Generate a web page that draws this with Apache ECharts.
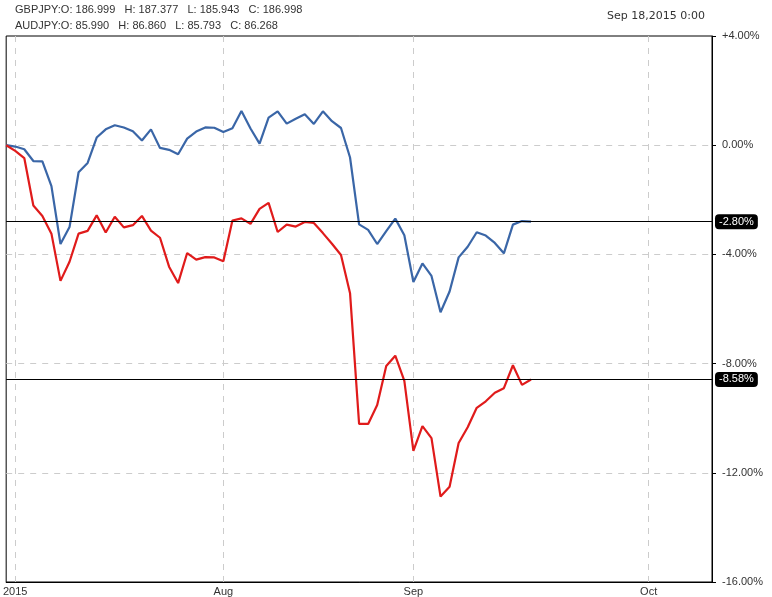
<!DOCTYPE html>
<html>
<head>
<meta charset="utf-8">
<style>
  html, body { margin: 0; padding: 0; background: #fff; }
  #chart { width: 772px; height: 597px; }
</style>
<script src="https://cdn.jsdelivr.net/npm/echarts@6/dist/echarts.min.js"></script>
</head>
<body>
<div id="chart"></div>
<script>
// 交易日（Jun 30 ~ Sep 18）+ 右侧空白日历日（Sep 19 ~ Oct 8）
var dates = [
  '2015-06-30',
  '2015-07-01', '2015-07-02', '2015-07-03', '2015-07-06', '2015-07-07', '2015-07-08', '2015-07-09', '2015-07-10',
  '2015-07-13', '2015-07-14', '2015-07-15', '2015-07-16', '2015-07-17', '2015-07-20', '2015-07-21', '2015-07-22',
  '2015-07-23', '2015-07-24', '2015-07-27', '2015-07-28', '2015-07-29', '2015-07-30', '2015-07-31',
  '2015-08-03', '2015-08-04', '2015-08-05', '2015-08-06', '2015-08-07', '2015-08-10', '2015-08-11', '2015-08-12',
  '2015-08-13', '2015-08-14', '2015-08-17', '2015-08-18', '2015-08-19', '2015-08-20', '2015-08-21', '2015-08-24',
  '2015-08-25', '2015-08-26', '2015-08-27', '2015-08-28', '2015-08-31',
  '2015-09-01', '2015-09-02', '2015-09-03', '2015-09-04', '2015-09-07', '2015-09-08', '2015-09-09', '2015-09-10',
  '2015-09-11', '2015-09-14', '2015-09-15', '2015-09-16', '2015-09-17', '2015-09-18',
  '2015-09-19', '2015-09-20', '2015-09-21', '2015-09-22', '2015-09-23', '2015-09-24', '2015-09-25', '2015-09-26',
  '2015-09-27', '2015-09-28', '2015-09-29', '2015-09-30',
  '2015-10-01', '2015-10-02', '2015-10-03', '2015-10-04', '2015-10-05', '2015-10-06', '2015-10-07', '2015-10-08'
];
// 月份刻度标签
var tickDates = ['2015-07-01', '2015-08-03', '2015-09-01', '2015-10-01'];
var tickNames = ['2015', 'Aug', 'Sep', 'Oct'];

// GBPJPY 涨跌幅 %
var gbpjpy = [
  0.00, -0.05, -0.15, -0.58, -0.59, -1.50, -3.62, -3.00, -0.99, -0.65,
  0.28, 0.58, 0.73, 0.65, 0.51, 0.17, 0.58, -0.10, -0.17, -0.33,
  0.24, 0.50, 0.65, 0.64, 0.48, 0.62, 1.25, 0.61, 0.06, 1.01,
  1.24, 0.79, 0.97, 1.13, 0.78, 1.24, 0.88, 0.63, -0.45, -2.90,
  -3.10, -3.62, -3.15, -2.69, -3.30, -5.01, -4.33, -4.79, -6.12, -5.36,
  -4.11, -3.72, -3.19, -3.31, -3.58, -3.96, -2.91, -2.78, -2.80
];
// AUDJPY 涨跌幅 %
var audjpy = [
  0.00, -0.21, -0.47, -2.21, -2.59, -3.24, -4.97, -4.27, -3.24, -3.14,
  -2.57, -3.20, -2.62, -3.01, -2.93, -2.59, -3.13, -3.39, -4.45, -5.05,
  -3.95, -4.19, -4.10, -4.11, -4.25, -2.76, -2.68, -2.88, -2.33, -2.11,
  -3.18, -2.91, -2.98, -2.81, -2.85, -3.22, -3.61, -4.02, -5.42, -10.21,
  -10.21, -9.52, -8.09, -7.71, -8.63, -11.20, -10.29, -10.73, -12.87, -12.51,
  -10.91, -10.33, -9.62, -9.38, -9.07, -8.90, -8.06, -8.78, -8.58
];
var lastGbp = -2.80;
var lastAud = -8.58;

var myChart = echarts.init(document.getElementById('chart'));

function pct(v) {
  return (v > 0 ? '+' : '') + v.toFixed(2) + '%';
}
function isTick(index) {
  return tickDates.indexOf(dates[index]) >= 0;
}

// 最新值横线 + 右侧黑底标签
function lastLabel(v) {
  return {
    silent: true,
    symbol: 'none',
    lineStyle: { color: '#000', width: 1, type: 'solid' },
    label: {
      position: 'end',
      distance: 3,
      formatter: pct(v),
      color: '#fff',
      fontSize: 11,
      fontFamily: 'Arial',
      lineHeight: 13,
      backgroundColor: '#000',
      borderRadius: 4,
      padding: [1, 4, 1, 4]
    },
    data: [{ yAxis: v }]
  };
}

var option = {
  animation: false,
  backgroundColor: '#fff',
  graphic: [
    {
      type: 'text', left: 15, top: 4,
      style: { text: 'GBPJPY:O: 186.999   H: 187.377   L: 185.943   C: 186.998', fill: '#333', font: '11px Arial' }
    },
    {
      type: 'text', left: 15, top: 20,
      style: { text: 'AUDJPY:O: 85.990   H: 86.860   L: 85.793   C: 86.268', fill: '#333', font: '11px Arial' }
    },
    {
      type: 'text', right: 67, top: 11,
      style: { text: 'Sep 18,2015 0:00', fill: '#333', font: '11px "DejaVu Sans"' }
    }
  ],
  grid: {
    left: 6,
    right: 60,
    top: 36,
    bottom: 11,
    show: true,
    borderColor: '#000',
    borderWidth: 1
  },
  xAxis: {
    type: 'category',
    data: dates,
    boundaryGap: false,
    axisLine: { onZero: false, lineStyle: { color: '#000', width: 1 } },
    axisTick: { show: false },
    axisLabel: {
      interval: function (index) { return isTick(index); },
      formatter: function (value) { return tickNames[tickDates.indexOf(value)]; },
      color: '#333',
      fontSize: 11,
      fontFamily: 'Arial',
      margin: 4
    },
    splitLine: {
      show: true,
      interval: function (index) { return isTick(index); },
      lineStyle: { color: '#ccc', type: [6, 6] }
    }
  },
  yAxis: {
    type: 'value',
    position: 'right',
    min: -16,
    max: 4,
    interval: 4,
    axisLine: { show: true, lineStyle: { color: '#000', width: 1 } },
    axisTick: { show: true, length: 4, lineStyle: { color: '#000' } },
    axisLabel: {
      formatter: pct,
      color: '#333',
      fontSize: 11,
      fontFamily: 'Arial',
      margin: 10
    },
    // 上下边框不画虚线
    splitLine: {
      showMinLine: false,
      showMaxLine: false,
      lineStyle: { color: '#ccc', type: [6, 6] }
    }
  },
  series: [
    {
      name: 'GBPJPY',
      type: 'line',
      data: gbpjpy,
      showSymbol: false,
      lineStyle: { color: '#3a66a7', width: 2.2 },
      itemStyle: { color: '#3a66a7' },
      markLine: lastLabel(lastGbp)
    },
    {
      name: 'AUDJPY',
      type: 'line',
      data: audjpy,
      showSymbol: false,
      lineStyle: { color: '#e01b1b', width: 2.2 },
      itemStyle: { color: '#e01b1b' },
      markLine: lastLabel(lastAud)
    }
  ]
};
myChart.setOption(option);
window.addEventListener('resize', function () {
  myChart.resize();
});
</script>
</body>
</html>
